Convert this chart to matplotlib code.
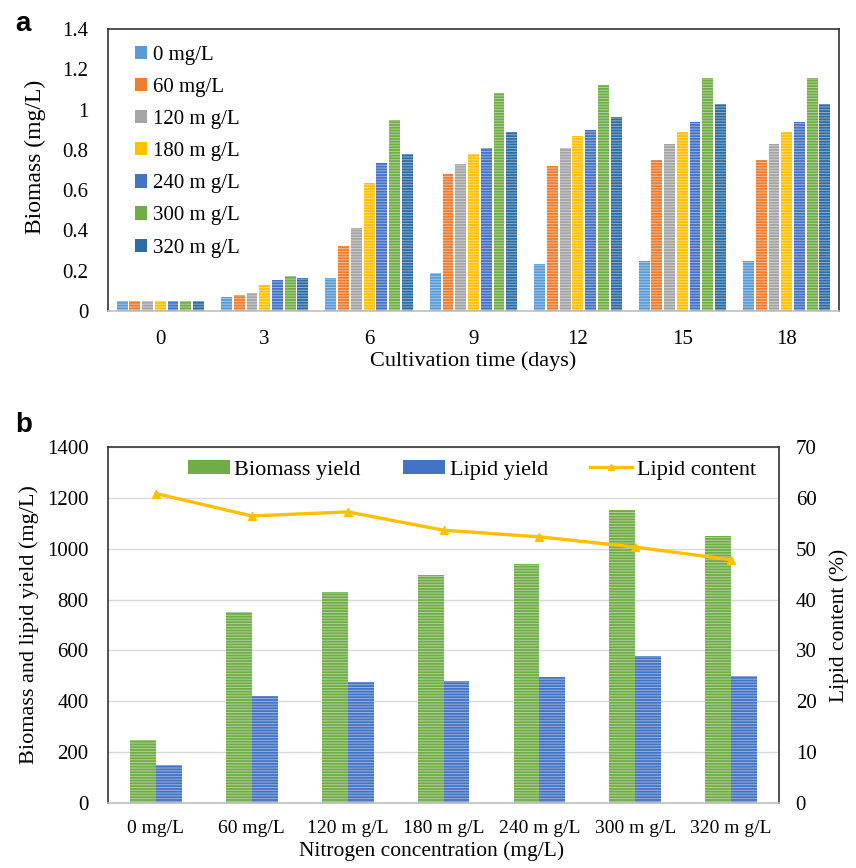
import matplotlib
matplotlib.use("Agg")
import matplotlib.pyplot as plt
import numpy as np
from matplotlib.lines import Line2D
from matplotlib.patches import Patch

plt.rcParams['font.family'] = ['Liberation Serif', 'DejaVu Serif']
plt.rcParams['hatch.linewidth'] = 0.7

# ---------------- data panel a ----------------
days = ['0', '3', '6', '9', '12', '15', '18']
series_labels = ['0 mg/L', '60 mg/L', '120 m g/L', '180 m g/L', '240 m g/L', '300 m g/L', '320 m g/L']
bio_0 = [0.05, 0.07, 0.165, 0.19, 0.235, 0.25, 0.25]
bio_60 = [0.05, 0.08, 0.325, 0.68, 0.72, 0.75, 0.75]
bio_120 = [0.05, 0.09, 0.41, 0.73, 0.81, 0.83, 0.83]
bio_180 = [0.05, 0.13, 0.635, 0.78, 0.87, 0.89, 0.89]
bio_240 = [0.05, 0.155, 0.735, 0.81, 0.90, 0.94, 0.94]
bio_300 = [0.05, 0.175, 0.95, 1.08, 1.12, 1.155, 1.155]
bio_320 = [0.05, 0.165, 0.78, 0.89, 0.965, 1.03, 1.03]
colors_a = ['#5B9BD5', '#ED7D31', '#A5A5A5', '#FFC000', '#4472C4', '#70AD47', '#2E6CA4']

# ---------------- data panel b ----------------
conc = ['0 mg/L', '60 mg/L', '120 m g/L', '180 m g/L', '240 m g/L', '300 m g/L', '320 m g/L']
biomass_yield = [250, 750, 830, 895, 940, 1150, 1050]
lipid_yield = [150, 420, 475, 480, 495, 577, 500]
lipid_content = [60.8, 56.4, 57.2, 53.6, 52.3, 50.3, 47.8]

fig = plt.figure(figsize=(8.56, 8.68), dpi=100)

stripe = (1, 1, 1, 0.45)

# ---------------- panel a ----------------
ax = fig.add_axes([0.1262, 0.6417, 0.8539, 0.3249])
x = np.arange(len(days))
all_series = [bio_0, bio_60, bio_120, bio_180, bio_240, bio_300, bio_320]
slot = 0.1218
for i, (vals, c) in enumerate(zip(all_series, colors_a)):
    ax.bar(x + (i - 3) * slot, vals, width=0.104, color=c, edgecolor=stripe,
           linewidth=0, hatch='------', label=series_labels[i])
ax.set_xlim(-0.5, 6.5)
ax.set_ylim(0, 1.4)
ax.set_yticks([0, 0.2, 0.4, 0.6, 0.8, 1.0, 1.2, 1.4])
ax.set_yticklabels(['0', '0.2', '0.4', '0.6', '0.8', '1', '1.2', '1.4'], fontsize=15)
ax.set_xticks(x)
ax.set_xticklabels(days, fontsize=15)
ax.tick_params(axis='x', length=0, pad=14)
ax.tick_params(axis='y', length=0, pad=14)
for s in ['top', 'right', 'left']:
    ax.spines[s].set_color('#333333')
    ax.spines[s].set_linewidth(1.2)
ax.spines['bottom'].set_color('#BFBFBF')
ax.spines['bottom'].set_linewidth(1.2)
ax.set_xlabel('Cultivation time (days)', fontsize=16, labelpad=1)
ax.set_ylabel('Biomass (mg/L)', fontsize=17, labelpad=6)
ax.yaxis.set_label_coords(-0.085, 0.546)
handles = [Patch(facecolor=c, edgecolor='none') for c in colors_a]
ax.legend(handles, series_labels, loc='upper left', bbox_to_anchor=(0.025, 0.97),
          frameon=False, fontsize=15, handlelength=0.6, handleheight=0.6,
          handletextpad=0.3, labelspacing=0.63, borderaxespad=0)

fig.text(0.0175, 0.972, 'a', fontsize=20, fontweight='bold', family='Liberation Sans',
         va='center', ha='left')

# ---------------- panel b ----------------
bx = fig.add_axes([0.1262, 0.0745, 0.7839, 0.4109])
xb = np.arange(len(conc))
bw = 0.27
bx.set_axisbelow(True)
bx.yaxis.grid(True, color='#D9D9D9', linewidth=1)
bx.bar(xb - bw / 2, biomass_yield, width=bw, color='#70AD47', edgecolor=stripe,
       linewidth=0, hatch='------', label='Biomass yield')
bx.bar(xb + bw / 2, lipid_yield, width=bw, color='#4472C4', edgecolor=stripe,
       linewidth=0, hatch='------', label='Lipid yield')
bx.set_xlim(-0.5, 6.5)
bx.set_ylim(0, 1400)
bx.set_yticks(np.arange(0, 1401, 200))
bx.tick_params(axis='y', labelsize=15, length=0, pad=14)
bx.set_xticks(xb)
bx.set_xticklabels(conc, fontsize=14)
bx.tick_params(axis='x', length=0, pad=12)
for s in ['top', 'right', 'left']:
    bx.spines[s].set_color('#333333')
    bx.spines[s].set_linewidth(1.2)
bx.spines['bottom'].set_color('#BFBFBF')
bx.spines['bottom'].set_linewidth(1.2)
bx.set_xlabel('Nitrogen concentration (mg/L)', fontsize=15.5, labelpad=1)
bx.xaxis.set_label_coords(0.482, -0.106)
bx.set_ylabel('Biomass and lipid yield (mg/L)', fontsize=16, labelpad=6)

rx = bx.twinx()
rx.plot(xb, lipid_content, color='#FFC000', linewidth=2.4, marker='^', markersize=6,
        label='Lipid content')
rx.set_ylim(0, 70)
rx.set_yticks(np.arange(0, 71, 10))
rx.tick_params(axis='y', labelsize=15, length=0, pad=12)
for s in rx.spines.values():
    s.set_visible(False)
rx.set_ylabel('Lipid content (%)', fontsize=15.5, labelpad=9)

hb = [Patch(facecolor='#70AD47', edgecolor='none'), Patch(facecolor='#4472C4', edgecolor='none'),
      Line2D([0], [0], color='#FFC000', linewidth=2.4, marker='^', markersize=5)]
bx.legend(hb, ['Biomass yield', 'Lipid yield', 'Lipid content'], loc='upper center',
          bbox_to_anchor=(0.542, 1.0), ncol=3, frameon=False, fontsize=16,
          handlelength=1.9, handleheight=0.6, handletextpad=0.2, columnspacing=1.9,
          borderaxespad=0.2)

fig.text(0.0175, 0.51, 'b', fontsize=20, fontweight='bold', family='Liberation Sans',
         va='center', ha='left')

fig.savefig('out.png', dpi=100)
